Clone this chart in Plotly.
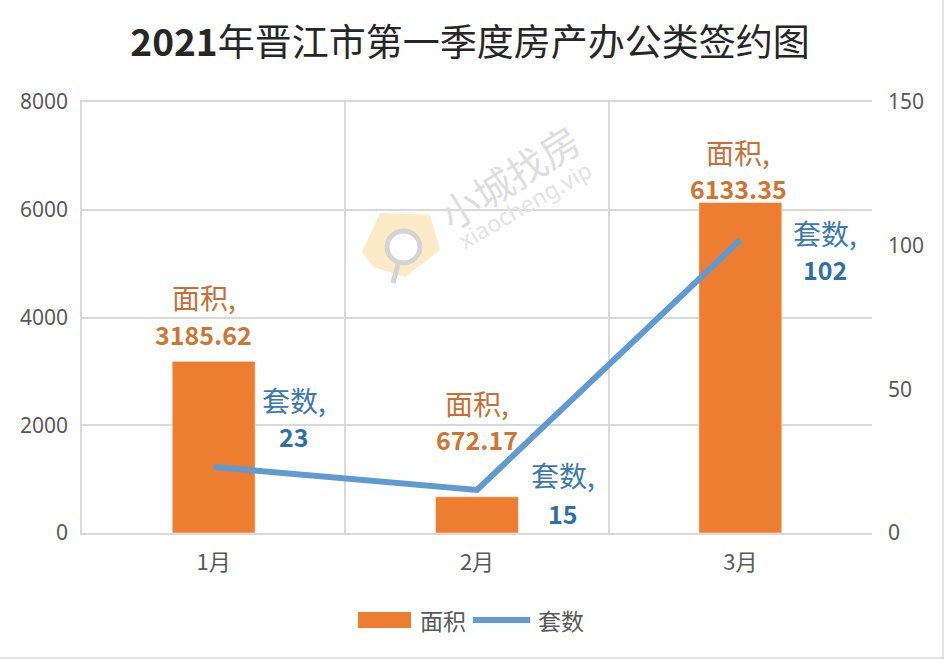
import plotly.graph_objects as go

months = ["1月", "2月", "3月"]
area = [3185.62, 672.17, 6133.35]
units = [23, 15, 102]
area_name = "面积"
units_name = "套数"
title = "<b>2021</b>年晋江市第一季度房产办公类签约图"

W, H = 944, 659
L, R, T, B = 82, 872, 102, 533
CJK = "Noto Sans CJK SC"
ORANGE = "#ED7D31"
BLUE = "#5F9BD1"
GRID = "#D9D9D9"
TICK = "#595959"

# hand placed label offsets in px from the mark: (x, name y, value y)
area_offsets = [(-10, 64, 27), (0, 94, 58), (-2, 51, 15)]
units_offsets = [(80, 67, 31), (86, 15, -23), (85, 7, -29)]


# paper coords follow the plot area, so convert from picture pixels
def px(x):
    return (x - L) / (R - L)


def py(y):
    return (B - y) / (B - T)


def pt(x, y):
    return f"{px(x):.4f},{py(y):.4f}"


def paper_text(x, y, text, font, angle=0):
    return dict(x=px(x), y=py(y), xref="paper", yref="paper", text=text, showarrow=False,
                xanchor="center", yanchor="middle", textangle=angle, font=font)


fig = go.Figure()

fig.add_trace(
    go.Bar(x=months, y=area, name=area_name, marker_color=ORANGE, width=0.315, showlegend=False)
)
fig.add_trace(
    go.Scatter(
        x=months,
        y=units,
        name=units_name,
        mode="lines",
        yaxis="y2",
        line=dict(color=BLUE, width=6),
        showlegend=False,
    )
)

annotations = []
for m, a, off in zip(months, area, area_offsets):
    annotations.append(
        dict(x=m, y=a, xref="x", yref="y", text=area_name + ",", showarrow=False,
             xshift=off[0], yshift=off[1], yanchor="middle",
             font=dict(family=CJK, size=28, color="#C96F35"))
    )
    annotations.append(
        dict(x=m, y=a, xref="x", yref="y", text=f"<b>{a}</b>", showarrow=False,
             xshift=off[0], yshift=off[2], yanchor="middle",
             font=dict(family=CJK, size=25, color="#D0752F"))
    )
for m, u, off in zip(months, units, units_offsets):
    annotations.append(
        dict(x=m, y=u, xref="x", yref="y2", text=units_name + ",", showarrow=False,
             xshift=off[0], yshift=off[1], yanchor="middle",
             font=dict(family=CJK, size=28, color="#3B79AE"))
    )
    annotations.append(
        dict(x=m, y=u, xref="x", yref="y2", text=f"<b>{u}</b>", showarrow=False,
             xshift=off[0], yshift=off[2], yanchor="middle",
             font=dict(family=CJK, size=25, color="#2F6FA5"))
    )

# watermark text
annotations.append(paper_text(509, 176, "小城找房", dict(family=CJK, size=39, color="#DEDEDE"), -32))
annotations.append(paper_text(524, 205, "xiaocheng.vip", dict(family="Noto Sans", size=23, color="#E4E4E4"), -30))

# legend drawn by hand, the swatch is wider than the plotly one
annotations.append(paper_text(443, 620, area_name, dict(family=CJK, size=23, color=TICK)))
annotations.append(paper_text(561, 620, units_name, dict(family=CJK, size=23, color=TICK)))

shapes = [
    # watermark icon
    dict(type="path", xref="paper", yref="paper", layer="below", line_width=0, fillcolor="#FDEBC8",
         path=f"M{pt(380, 213)} L{pt(430, 215)} L{pt(440, 250)} L{pt(405, 277)} L{pt(373, 267)} L{pt(362, 252)} Z"),
    dict(type="circle", xref="paper", yref="paper", layer="below", fillcolor="white",
         line=dict(color="#D4D4D4", width=5),
         x0=px(387), x1=px(420), y0=py(263), y1=py(231)),
    dict(type="line", xref="paper", yref="paper", layer="below",
         line=dict(color="#D4D4D4", width=5),
         x0=px(398), y0=py(264), x1=px(393), y1=py(283)),
    # legend swatches
    dict(type="rect", xref="paper", yref="paper", line_width=0, fillcolor=ORANGE,
         x0=px(358), x1=px(411), y0=py(628), y1=py(612)),
    dict(type="line", xref="paper", yref="paper", line=dict(color=BLUE, width=6),
         x0=px(473), x1=px(530), y0=py(620), y1=py(620)),
    # grey edge of the picture
    dict(type="line", xref="paper", yref="paper", line=dict(color="#C8C8C8", width=1),
         x0=px(0), x1=px(944), y0=py(658), y1=py(658)),
    dict(type="line", xref="paper", yref="paper", line=dict(color="#C8C8C8", width=1),
         x0=px(943), x1=px(943), y0=py(0), y1=py(659)),
]

fig.update_layout(
    width=W,
    height=H,
    template="plotly_white",
    margin=dict(l=L, r=W - R, t=T, b=H - B, autoexpand=False),
    paper_bgcolor="white",
    plot_bgcolor="rgba(0,0,0,0)",
    title=dict(
        text=title,
        x=470 / W,
        xanchor="center",
        y=1 - 43 / H,
        yanchor="middle",
        font=dict(family=CJK, size=37, color="#262626"),
    ),
    font=dict(family=CJK),
    showlegend=False,
    xaxis=dict(
        showgrid=True,
        gridcolor=GRID,
        gridwidth=1.5,
        tickson="boundaries",
        ticks="",
        showline=True,
        linecolor=GRID,
        linewidth=1.5,
        mirror=True,
        ticklabelstandoff=9,
        tickfont=dict(family=CJK, size=22, color=TICK),
        fixedrange=True,
    ),
    yaxis=dict(
        range=[0, 8000],
        tickvals=[0, 2000, 4000, 6000, 8000],
        gridcolor=GRID,
        gridwidth=1.5,
        zeroline=False,
        showline=True,
        linecolor=GRID,
        linewidth=1.5,
        ticks="",
        ticklabelstandoff=8,
        tickfont=dict(family="Noto Sans", size=21, color=TICK),
        fixedrange=True,
    ),
    yaxis2=dict(
        range=[0, 150],
        tickvals=[0, 50, 100, 150],
        overlaying="y",
        side="right",
        showgrid=False,
        zeroline=False,
        ticks="",
        ticklabelstandoff=15,
        tickfont=dict(family="Noto Sans", size=21, color=TICK),
        fixedrange=True,
    ),
    annotations=annotations,
    shapes=shapes,
)

fig.write_html(
    "out.html",
    config={"displayModeBar": False},
    post_script="document.body.style.margin='0';",
)
